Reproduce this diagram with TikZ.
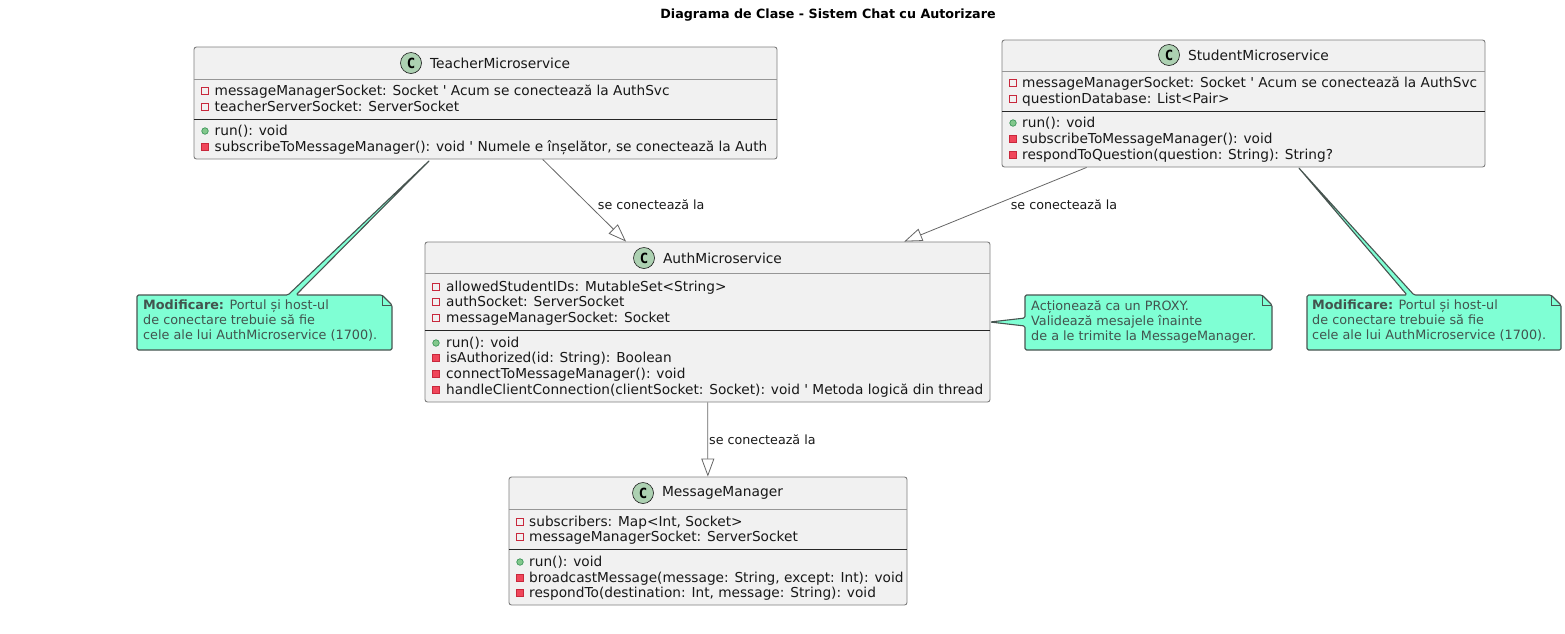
\documentclass[tikz,border=0pt]{standalone}
\usepackage{fontspec}
\setmainfont{DejaVu Sans}
\newfontfamily\iconfont{DejaVu Sans Mono}
\usetikzlibrary{arrows.meta,positioning,backgrounds,calc}
\definecolor{umlgray}{RGB}{24,24,24}
\definecolor{umlline}{RGB}{102,102,102}
\definecolor{umlborder}{RGB}{125,125,125}
\definecolor{umlsep}{RGB}{150,150,150}
\definecolor{umlbox}{RGB}{241,241,241}
\definecolor{umlicon}{RGB}{173,209,178}
\definecolor{umlred}{RGB}{200,40,60}
\definecolor{umlredfill}{RGB}{240,70,90}
\definecolor{umlgreen}{RGB}{60,150,90}
\definecolor{umlgreenfill}{RGB}{130,200,140}
\definecolor{notefill}{RGB}{127,255,212}
\definecolor{notetext}{RGB}{66,84,78}
\definecolor{noteline}{RGB}{72,84,80}
\tikzset{
  classbox/.style={draw=umlborder, fill=umlbox, rounded corners=2.5pt, line width=0.9pt, inner sep=0pt},
  classicon/.style={draw=umlgray, fill=umlicon, circle, line width=0.6pt, minimum size=21pt, inner sep=0pt, font=\fontsize{14}{14}\iconfont\bfseries, text=black},
  classtitle/.style={font=\fontsize{13.8}{16}\selectfont, text=umlgray, inner sep=0pt},
  membertext/.style={font=\fontsize{13.7}{16}\selectfont, text=umlgray, anchor=base west, inner sep=0pt},
  privfield/.style={draw=umlred, fill=none, line width=0.7pt, minimum size=6.5pt, inner sep=0pt},
  privmethod/.style={draw=umlred, fill=umlredfill, line width=0.7pt, minimum size=6.5pt, inner sep=0pt},
  pubmethod/.style={draw=umlgreen, fill=umlgreenfill, circle, line width=0.7pt, minimum size=6.5pt, inner sep=0pt},
  notetxt/.style={font=\fontsize{12.8}{15}\selectfont, text=notetext, align=left, anchor=north west, inner sep=0pt},
  notebody/.style={draw=noteline, fill=notefill, line width=1.1pt, rounded corners=1.5pt, line join=round},
  inherits/.style={draw=umlline, line width=0.8pt, -{Triangle[length=18pt, width=13pt, fill=white]}},
  edgelabel/.style={font=\fontsize{12.7}{14}\selectfont, text=umlgray, inner sep=0pt},
}
\begin{document}
\begin{tikzpicture}[x=1pt, y=-1pt]
\useasboundingbox (0,0) rectangle (1565,633);
\node[font=\fontsize{12.7}{15}\selectfont\bfseries, text=black, inner sep=0pt] (diagramtitle) at (828,15) {Diagrama de Clase - Sistem Chat cu Autorizare};
% Class boxes
\node[classbox, minimum width=583pt, minimum height=112pt] (teacher) at (485.5,103) {};
\node[classbox, minimum width=483pt, minimum height=127pt] (student) at (1243.5,103.5) {};
\node[classbox, minimum width=565pt, minimum height=160pt] (auth) at (707.5,322) {};
\node[classbox, minimum width=398pt, minimum height=128pt] (manager) at (708,541) {};
% Header and member separators
\foreach \cname/\hy/\sy in {teacher/79/119, student/71/111, auth/273/330, manager/509/549} {
  \draw[umlsep, line width=1pt] (\cname.west |- 0,\hy) -- (\cname.east |- 0,\hy);
  \draw[black!85, line width=0.9pt] (\cname.west |- 0,\sy) -- (\cname.east |- 0,\sy);
}
% Titles
\node[classicon] (teacherC) at (411,63) {C};
\node[classtitle, right=8pt of teacherC] (teachertitle) {TeacherMicroservice};
\node[classicon] (studentC) at (1169,55) {C};
\node[classtitle, right=8pt of studentC] (studenttitle) {StudentMicroservice};
\node[classicon] (authC) at (644,258) {C};
\node[classtitle, right=8pt of authC] (authtitle) {AuthMicroservice};
\node[classicon] (managerC) at (643,493) {C};
\node[classtitle, right=8pt of managerC] (managertitle) {MessageManager};
% Members
\foreach \ic/\ty/\tx [count=\i] in {
  privfield/91/{messageManagerSocket: Socket \textquotesingle{} Acum se conectează la AuthSvc},
  privfield/107/{teacherServerSocket: ServerSocket},
  pubmethod/131/{run(): void},
  privmethod/147/{subscribeToMessageManager(): void \textquotesingle{} Numele e înșelător, se conectează la Auth}} {
  \node[\ic] (teachericon\i) at (205,\ty) {};
  \node[membertext] (teachermember\i) at (214.5,\ty+4.8) {\tx};
}
\foreach \ic/\ty/\tx [count=\i] in {
  privfield/83/{messageManagerSocket: Socket \textquotesingle{} Acum se conectează la AuthSvc},
  privfield/99/{questionDatabase: List<Pair>},
  pubmethod/123/{run(): void},
  privmethod/139/{subscribeToMessageManager(): void},
  privmethod/155/{respondToQuestion(question: String): String?}} {
  \node[\ic] (studenticon\i) at (1013,\ty) {};
  \node[membertext] (studentmember\i) at (1022,\ty+4.8) {\tx};
}
\foreach \ic/\ty/\tx [count=\i] in {
  privfield/287/{allowedStudentIDs: MutableSet<String>},
  privfield/302/{authSocket: ServerSocket},
  privfield/318/{messageManagerSocket: Socket},
  pubmethod/343/{run(): void},
  privmethod/358/{isAuthorized(id: String): Boolean},
  privmethod/374/{connectToMessageManager(): void},
  privmethod/390/{handleClientConnection(clientSocket: Socket): void \textquotesingle{} Metoda logică din thread}} {
  \node[\ic] (authicon\i) at (436,\ty) {};
  \node[membertext] (authmember\i) at (446,\ty+4.8) {\tx};
}
\foreach \ic/\ty/\tx [count=\i] in {
  privfield/522/{subscribers: Map<Int, Socket>},
  privfield/537/{messageManagerSocket: ServerSocket},
  pubmethod/562/{run(): void},
  privmethod/578/{broadcastMessage(message: String, except: Int): void},
  privmethod/593/{respondTo(destination: Int, message: String): void}} {
  \node[\ic] (managericon\i) at (520,\ty) {};
  \node[membertext] (managermember\i) at (529,\ty+4.8) {\tx};
}
% Connections
\path[inherits] (teacher) -- node[edgelabel, pos=0.55, right=9pt] (teacherlink) {se conectează la} (auth);
\path[inherits] (student) -- node[edgelabel, pos=0.5, right=15pt] (studentlink) {se conectează la} (auth);
\path[inherits] (auth) -- node[edgelabel, pos=0.5, right=1pt] (authlink) {se conectează la} (manager);
% Notes
\node[notetxt] (teachernote) at (143,300) {\textbf{Modificare:} Portul și host-ul\\de conectare trebuie să fie\\cele ale lui AuthMicroservice (1700).};
\node[notetxt] (authnote) at (1031,300) {Acționează ca un PROXY.\\Validează mesajele înainte\\de a le trimite la MessageManager.};
\node[notetxt] (studentnote) at (1312,300) {\textbf{Modificare:} Portul și host-ul\\de conectare trebuie să fie\\cele ale lui AuthMicroservice (1700).};
\begin{scope}[on background layer]
\draw[notebody] (137,295) -- (288,295) -- (430,160) -- (296,295) -- (382,295) -- (392,305) -- (392,350) -- (137,350) -- cycle;
\draw[line width=0.7pt, noteline] (382,295) -- (382,305) -- (392,305);
\draw[notebody] (1025,295) -- (1262,295) -- (1272,305) -- (1272,350) -- (1025,350) -- (1025,326) -- (990,322) -- (1025,318) -- cycle;
\draw[line width=0.7pt, noteline] (1262,295) -- (1262,305) -- (1272,305);
\draw[notebody] (1307,295) -- (1407,295) -- (1298,167) -- (1414,295) -- (1551,295) -- (1561,305) -- (1561,350) -- (1307,350) -- cycle;
\draw[line width=0.7pt, noteline] (1551,295) -- (1551,305) -- (1561,305);
\end{scope}
\end{tikzpicture}
\end{document}
